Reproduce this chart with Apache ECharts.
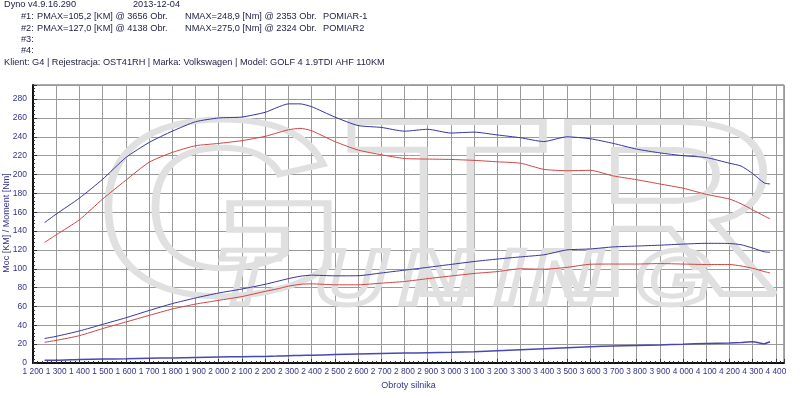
<!DOCTYPE html>
<html>
<head>
<meta charset="utf-8">
<script src="https://cdn.jsdelivr.net/npm/echarts@6/dist/echarts.min.js"></script>
<style>
  html, body { margin: 0; padding: 0; background: #fff; }
  #chart { width: 800px; height: 398px; }
</style>
</head>
<body>
<div id="chart"></div>
<script>
// obroty (rpm) shared by all curves
const rpm = [1250, 1300, 1400, 1500, 1600, 1700, 1800, 1900, 2000, 2100, 2200, 2250, 2300, 2350,
  2400, 2500, 2600, 2700, 2800, 2900, 3000, 3100, 3200, 3300, 3400, 3500, 3600, 3700, 3800,
  3900, 4000, 4100, 4200, 4250, 4300, 4350, 4375];

// POMIAR2 - moment [Nm] (blue, upper)
const nm2 = [149, 158, 175, 195, 218, 234, 246, 256, 260, 261, 266, 271, 275, 275,
  272, 261, 252, 250, 246, 248, 244, 245, 242, 239, 235, 240, 238, 233, 227,
  223, 220, 218, 212, 209, 201, 191, 190];
// POMIAR-1 - moment [Nm] (red)
const nm1 = [128, 136, 152, 174, 194, 213, 223.5, 230.5, 233, 236, 240.5, 244, 247.5, 249,
  246.5, 235, 226, 221, 217, 216.4, 216, 215, 213.5, 212, 205.5, 204, 204.5, 198.5, 194.5,
  190, 185.5, 179, 174, 169, 162.5, 156, 153];
// POMIAR2 - moc [KM] (blue)
const km2 = [26, 28.3, 34, 41, 48, 55.7, 63, 69, 74.3, 78.5, 83.5, 86.5, 89.5, 92,
  93.2, 92.5, 92.6, 95.5, 98.5, 101.5, 104.6, 107.7, 110.3, 112.6, 114.8, 120, 121, 123.2, 124.1,
  125, 126.2, 127, 126.8, 125.5, 122, 118, 117.5];
// POMIAR-1 - moc [KM] (red)
const km1 = [22, 24, 29, 36.5, 43.5, 50.5, 57.3, 62.5, 66.5, 70.5, 76, 78.5, 81.5, 83.5,
  84, 83, 83, 84.7, 86.5, 89.5, 92.3, 95, 97, 100, 99.5, 101.5, 104.8, 105, 105,
  105.5, 105, 104.5, 104.5, 103, 100.5, 97, 95.5];
// straty (bottom blue line)
const loss = [3, 3, 3.8, 4.2, 4.5, 5, 5.4, 5.9, 6.3, 6.7, 7, 7.3, 7.7, 8,
  8.3, 8.9, 9.5, 10, 10.5, 10.9, 11.3, 11.9, 12.9, 14, 15.1, 16.2, 17.3, 18, 18.6,
  19.2, 19.9, 20.7, 21.3, 21.8, 22.6, 20.5, 22.5];

const headerLines = [
  ["Dyno v4.9.16.290", 4, 6], ["2013-12-04", 133, 6],
  ["#1:", 21, 18], ["PMAX=105,2 [KM] @ 3656 Obr.", 37, 18], ["NMAX=248,9 [Nm] @ 2353 Obr.", 185, 18], ["POMIAR-1", 323, 18],
  ["#2:", 21, 30], ["PMAX=127,0 [KM] @ 4138 Obr.", 37, 30], ["NMAX=275,0 [Nm] @ 2324 Obr.", 185, 30], ["POMIAR2", 323, 30],
  ["#3:", 21, 41], ["#4:", 21, 52],
  ["Klient: G4 | Rejestracja: OST41RH | Marka: Volkswagen | Model: GOLF 4 1.9TDI AHF 110KM", 4, 64]
];
const tuningLetters = [["T", 215], ["U", 315], ["N", 400], ["I", 495], ["N", 530], ["G", 635]];

const BLUE = "#3434a4";
const RED = "#d04545";
const LABEL = "#33338a";
const MARK = "#e0e0e0";

function pairs(vals) {
  return rpm.map((r, i) => [r, vals[i]]);
}
function line(name, vals, color, width) {
  return {
    name: name, type: "line", data: pairs(vals), showSymbol: false, smooth: 0.2,
    lineStyle: { color: color, width: width }, z: 3, animation: false
  };
}

const chart = echarts.init(document.getElementById("chart"));
const graphics = headerLines.map(h => ({
  type: "text", left: h[1], top: h[2] - 6,
  style: { text: h[0], font: "9.2px 'Liberation Sans', Arial", fill: "#23234a" }
}));
// y axis title (drawn by hand so it is not pushed off the canvas)
graphics.push({
  type: "text", x: 7, y: 223, rotation: Math.PI / 2,
  style: { text: "Moc [KM] / Moment [Nm]", font: "9px 'Liberation Sans', Arial", fill: LABEL,
    textAlign: "center", textVerticalAlign: "middle" }
});
// watermark GTR TUNING
graphics.push({
  type: "text", x: 95, y: 100, z: 1, silent: true, scaleX: 1.3,
  style: { text: "GTR", font: "bold 250px 'Liberation Sans', Arial", fill: "none",
    stroke: MARK, lineWidth: 6, textVerticalAlign: "top" }
});
tuningLetters.forEach(t => graphics.push({
  type: "text", x: t[1], y: 243, z: 1, silent: true, scaleX: 1.25,
  style: { text: t[0], font: "italic bold 78px 'Liberation Sans', Arial", fill: "none",
    stroke: MARK, lineWidth: 5, textVerticalAlign: "top" }
}));

chart.setOption({
  animation: false,
  backgroundColor: "#fff",
  graphic: graphics,
  grid: { left: 33, right: 16, top: 85, bottom: 35, outerBoundsMode: "none",
    show: true, borderColor: "#555", borderWidth: 1 },
  xAxis: {
    type: "value", min: 1200, max: 4435, interval: 100,
    name: "Obroty silnika", nameLocation: "middle", nameGap: 17,
    nameTextStyle: { color: LABEL, fontSize: 9, fontFamily: "Liberation Sans" },
    axisLine: { lineStyle: { color: "#111", width: 2 } },
    axisTick: { inside: true, length: 4, lineStyle: { color: "#333" } },
    minorTick: { show: true, splitNumber: 5, length: 2, lineStyle: { color: "#333" } },
    splitLine: { lineStyle: { color: "#9a9a9a", width: 1 } },
    axisLabel: {
      color: LABEL, fontSize: 8.3, fontFamily: "Liberation Sans", margin: 5,
      showMinLabel: true, showMaxLabel: false, hideOverlap: false, interval: 0,
      formatter: v => (v % 100 === 0 ? Math.floor(v / 1000) + " " + String(v % 1000).padStart(3, "0") : "")
    }
  },
  yAxis: {
    type: "value", min: 0, max: 295, interval: 20,
    axisLine: { show: true, lineStyle: { color: "#111", width: 2 } },
    axisTick: { show: true, inside: true, length: 4, lineStyle: { color: "#333" } },
    minorTick: { show: true, splitNumber: 5, length: 2, lineStyle: { color: "#333" } },
    splitLine: { lineStyle: { color: "#9a9a9a", width: 1 } },
    axisLabel: {
      color: LABEL, fontSize: 8.5, fontFamily: "Liberation Sans", margin: 6, showMaxLabel: false,
      formatter: v => (v % 20 === 0 ? String(v) : "")
    }
  },
  series: [
    line("POMIAR2 Nm", nm2, BLUE, 1),
    line("POMIAR-1 Nm", nm1, RED, 1),
    line("POMIAR2 KM", km2, BLUE, 1),
    line("POMIAR-1 KM", km1, RED, 1),
    line("Straty", loss, "#4848b4", 1.5)
  ]
});
</script>
</body>
</html>
